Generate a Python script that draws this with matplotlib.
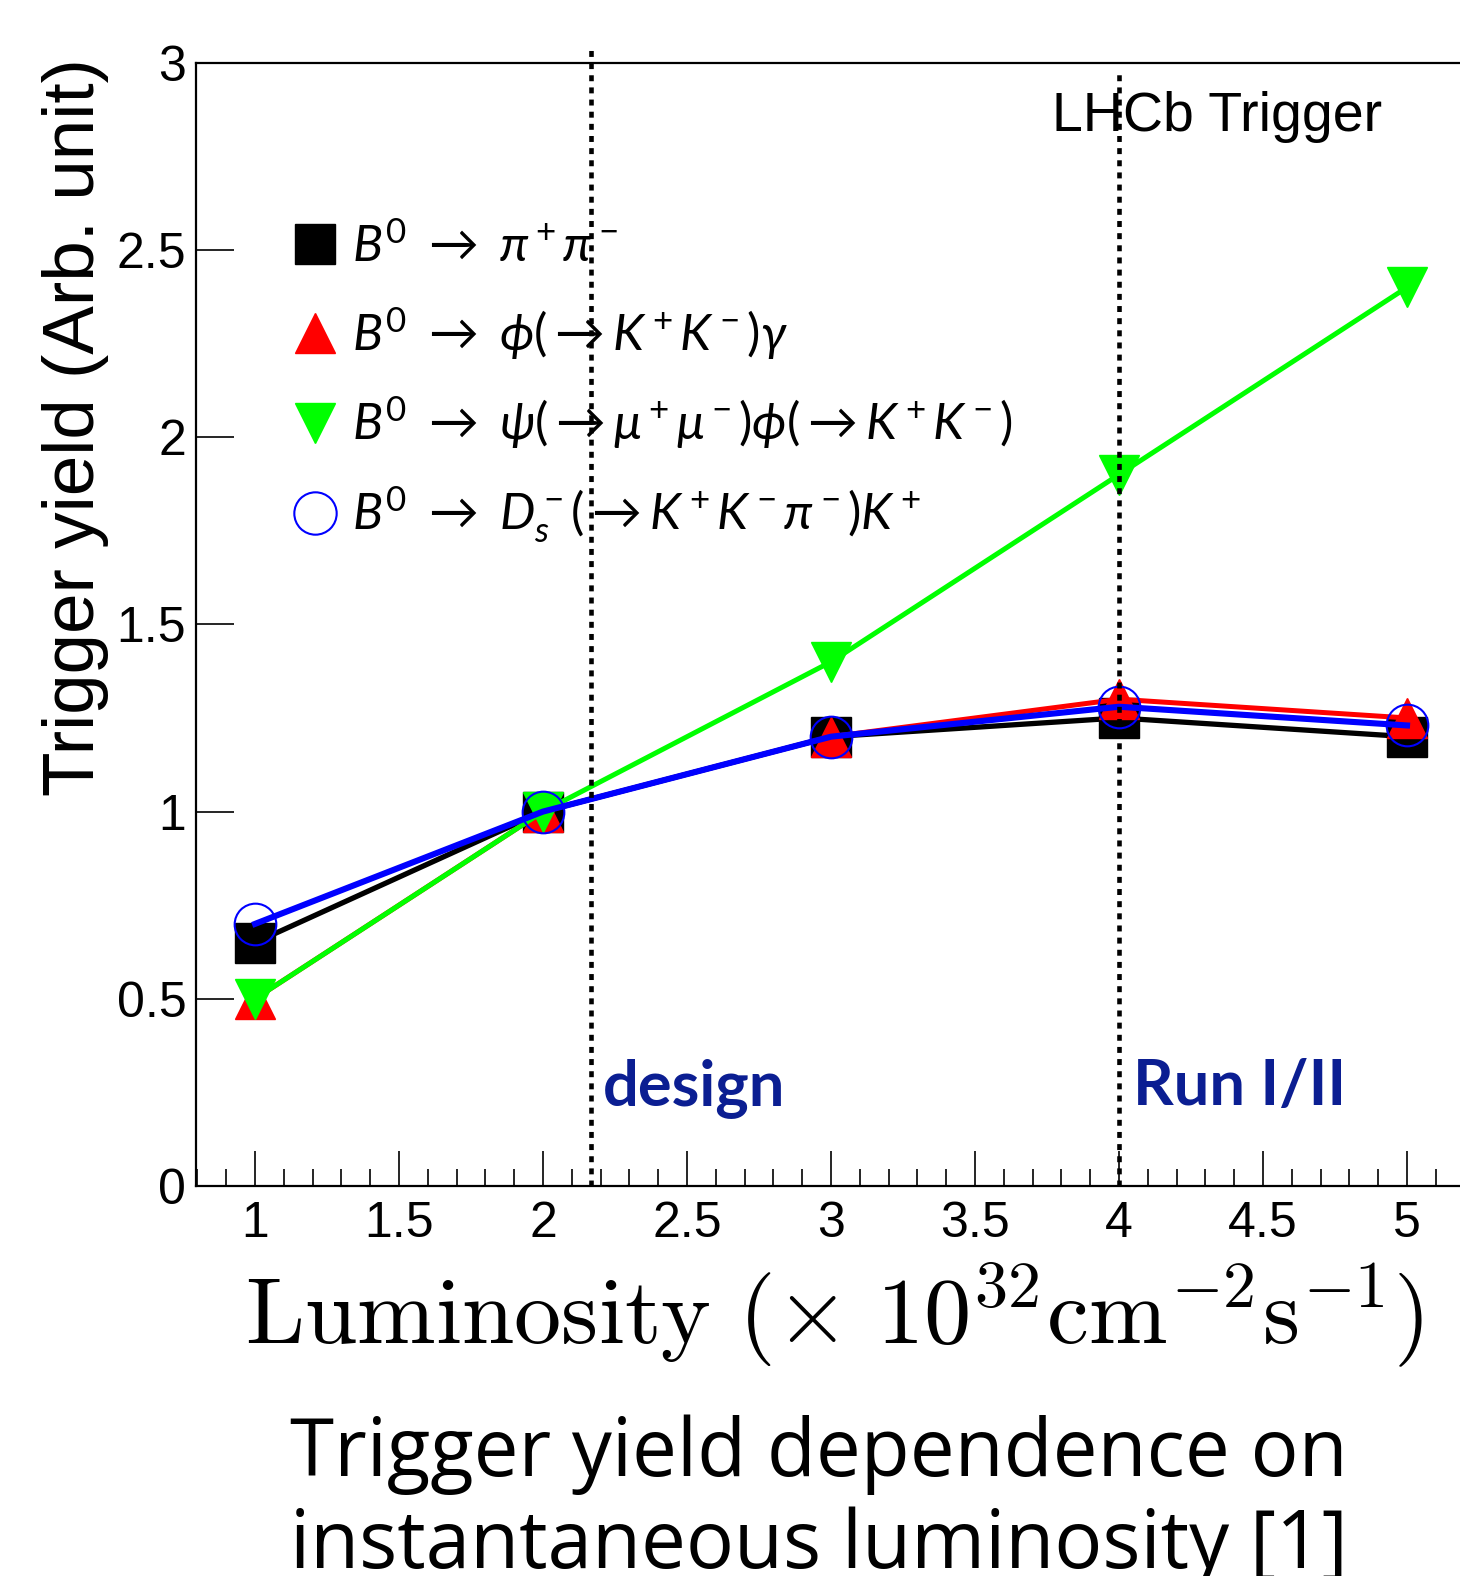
import numpy as np
import matplotlib
matplotlib.use('Agg')
import matplotlib.pyplot as plt
from matplotlib.ticker import MultipleLocator
from matplotlib.lines import Line2D

# luminosity points (x 10^32 cm^-2 s^-1)
lumi = [1, 2, 3, 4, 5]

# trigger yields
pipi = [0.65, 1.0, 1.2, 1.25, 1.2]
phigamma = [0.5, 1.0, 1.2, 1.3, 1.25]
psiphi = [0.5, 1.0, 1.4, 1.9, 2.4]
dsk = [0.7, 1.0, 1.2, 1.28, 1.23]

labels = [r'$B^0\ \rightarrow\ \pi^+\pi^-$',
          r'$B^0\ \rightarrow\ \phi(\rightarrow K^+K^-)\gamma$',
          r'$B^0\ \rightarrow\ \psi(\rightarrow \mu^+\mu^-)\phi(\rightarrow K^+K^-)$',
          r'$B^0\ \rightarrow\ D_s^-(\rightarrow K^+K^-\pi^-)K^+$']

design_lumi = 2.165
run_lumi = 4.0

plt.rcParams['font.family'] = ['Liberation Sans', 'DejaVu Sans']
plt.rcParams['mathtext.fontset'] = 'custom'
plt.rcParams['mathtext.rm'] = 'Lato'
plt.rcParams['mathtext.it'] = 'Lato:italic'
plt.rcParams['mathtext.fallback'] = 'cm'

fig = plt.figure(figsize=(14.6, 15.76), dpi=100)
W, H = 1460., 1576.
ax = fig.add_axes([196/W, (H-1186)/H, (W-196)/W, (1186-62.7)/H])

ms = 29.5
ax.plot(lumi, pipi, color='black', lw=3.8, marker='s', ms=ms, zorder=3)
ax.plot(lumi, phigamma, color='red', lw=3.6, marker='^', ms=ms, zorder=4)
ax.plot(lumi, psiphi, color='#00ff00', lw=3.6, marker='v', ms=ms, zorder=5)
ax.plot(lumi, dsk, color='blue', lw=4.4, marker='o', ms=ms + 0.5, mfc='none',
        mec='blue', mew=1.5, zorder=6)

# reference luminosity lines
ax.plot([design_lumi, design_lumi], [0, 3.045], color='black', lw=3.3,
        ls=(0, (1.3, 1.35)), clip_on=False, zorder=7)
ax.plot([run_lumi, run_lumi], [0, 2.981], color='black', lw=3.3,
        ls=(0, (1.3, 1.35)), clip_on=False, zorder=7)

ax.text(2.208, 0.216, 'design', color='#0b1e92', fontsize=45.5,
        fontfamily='Lato', fontweight='bold', va='baseline')
ax.text(4.048, 0.216, 'Run I/II', color='#0b1e92', fontsize=45.5,
        fontfamily='Lato', fontweight='bold', va='baseline')
ax.text(3.767, 2.818, 'LHCb Trigger', fontsize=40, va='baseline')

ax.set_xlim(0.795, 5.184)
ax.set_ylim(0, 3)
ax.set_xticks([1, 1.5, 2, 2.5, 3, 3.5, 4, 4.5, 5])
ax.set_xticklabels(['1', '1.5', '2', '2.5', '3', '3.5', '4', '4.5', '5'])
ax.xaxis.set_minor_locator(MultipleLocator(0.1))
ax.set_yticks([0, 0.5, 1, 1.5, 2, 2.5, 3])
ax.set_yticklabels(['0', '0.5', '1', '1.5', '2', '2.5', '3'])
ax.tick_params(axis='x', which='major', direction='in', length=25, width=1.2,
               labelsize=36, pad=11)
ax.tick_params(axis='x', which='minor', direction='in', length=12, width=1.2)
ax.tick_params(axis='y', which='major', direction='in', length=27, width=1.2,
               labelsize=36, pad=7)
ax.spines['right'].set_visible(False)
for s in ['left', 'bottom', 'top']:
    ax.spines[s].set_linewidth(1.6)

handles = [Line2D([], [], color='black', marker='s', ls='none', ms=ms),
           Line2D([], [], color='red', marker='^', ls='none', ms=ms),
           Line2D([], [], color='#00ff00', marker='v', ls='none', ms=ms),
           Line2D([], [], color='blue', marker='o', ls='none', ms=ms + 1,
                  mfc='none', mew=1.5)]
ax.legend(handles, labels, loc='upper left', bbox_to_anchor=(0.0585, 0.874),
          frameon=False, fontsize=36, handlelength=1.0, handletextpad=0.25,
          labelspacing=0.67, borderaxespad=0)

fig.text(76/W, 1 - 427/H, 'Trigger yield (Arb. unit)', rotation=90,
         fontsize=52.5, ha='center', va='center')

fig.text(834/W, 1 - 1343/H,
         r'$\mathrm{Luminosity}\ (\times\ 10^{32}\mathrm{cm}^{-2}\mathrm{s}^{-1})$',
         fontsize=68, ha='center', va='baseline', math_fontfamily='cm')

fig.text(819/W, 1 - 1568/H,
         'Trigger yield dependence on\ninstantaneous luminosity [1]',
         fontsize=57.5, fontfamily='Open Sans', ha='center', va='baseline',
         linespacing=1.18)

fig.savefig('out.png', dpi=100)
